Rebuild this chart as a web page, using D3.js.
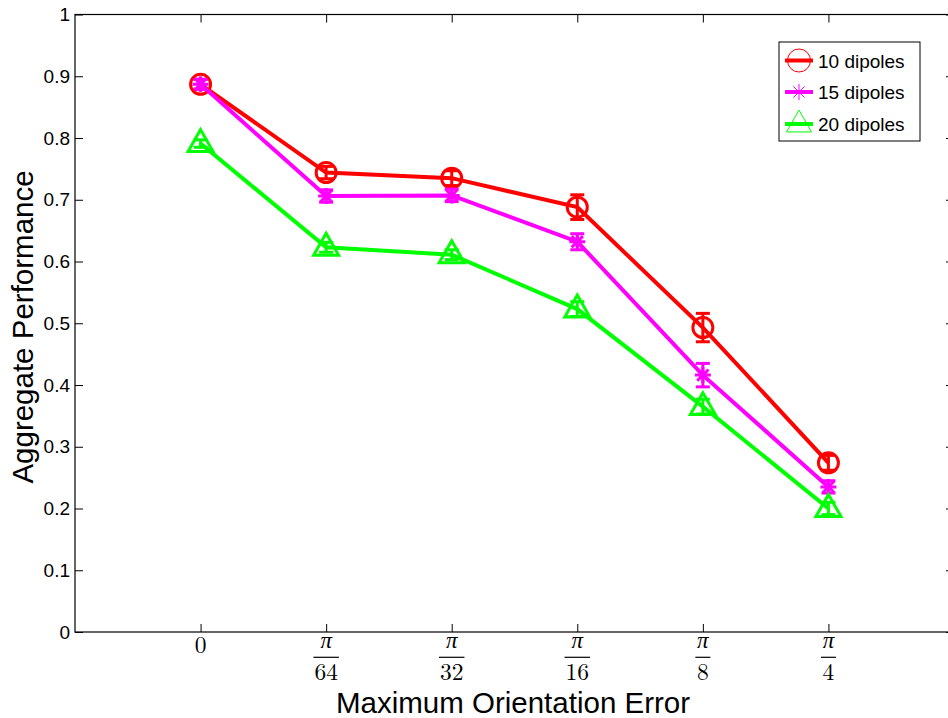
<!DOCTYPE html>
<html>
<head>
<meta charset="utf-8">
<script src="https://cdn.jsdelivr.net/npm/d3@7"></script>
<style>
  html, body { margin: 0; padding: 0; background: #fff; }
  svg { display: block; }
</style>
</head>
<body>
<svg id="chart" width="948" height="718"></svg>
<script>
// Orientation error levels (tick labels are drawn as stacked fractions)
const categories = ["0", "π/64", "π/32", "π/16", "π/8", "π/4"];
const tickNumerators = ["", "π", "π", "π", "π", "π"];
const tickDenominators = ["0", "64", "32", "16", "8", "4"];

// Aggregate performance per dipole count, with error-bar half widths
const seriesNames = ["10 dipoles", "15 dipoles", "20 dipoles"];
const perf10 = [0.887, 0.744, 0.735, 0.688, 0.493, 0.274];
const err10  = [0.008, 0.010, 0.012, 0.020, 0.023, 0.012];
const perf15 = [0.887, 0.706, 0.707, 0.632, 0.416, 0.235];
const err15  = [0.008, 0.010, 0.010, 0.013, 0.019, 0.010];
const perf20 = [0.791, 0.623, 0.611, 0.523, 0.365, 0.200];
const err20  = [0.006, 0.008, 0.008, 0.012, 0.012, 0.010];
const yTicks = [0, 0.1, 0.2, 0.3, 0.4, 0.5, 0.6, 0.7, 0.8, 0.9, 1];

const series = [
  { name: seriesNames[0], values: perf10, errs: err10, color: "#ff0000", marker: "circle" },
  { name: seriesNames[1], values: perf15, errs: err15, color: "#ff00ff", marker: "star" },
  { name: seriesNames[2], values: perf20, errs: err20, color: "#00ff00", marker: "triangle" }
];

const svg = d3.select("#chart");
const plotLeft = 75, plotRight = 954, plotTop = 14.5, plotBottom = 632;
const sans = "'Liberation Sans', Arial, Helvetica, sans-serif";
const serif = "'Latin Modern Roman', 'CMU Serif', 'Liberation Serif', 'DejaVu Serif', serif";

const x = d3.scaleLinear().domain([-1, 6]).range([plotLeft, plotRight]);
const y = d3.scaleLinear().domain([0, 1]).range([plotBottom, plotTop]);
const idx = d3.range(categories.length);

// Frame
svg.append("rect")
  .attr("x", plotLeft).attr("y", plotTop)
  .attr("width", plotRight - plotLeft).attr("height", plotBottom - plotTop)
  .attr("fill", "none").attr("stroke", "#000").attr("stroke-width", 1.2);

// Y axis (left) with inward ticks
const yAxis = d3.axisLeft(y).tickValues(yTicks).tickSize(-8).tickPadding(5)
  .tickFormat(d => d === 0 || d === 1 ? d3.format("d")(d) : d3.format(".1f")(d));
const gy = svg.append("g").attr("transform", `translate(${plotLeft},0)`).call(yAxis);
gy.select(".domain").remove();
gy.selectAll("line").attr("stroke", "#000").attr("stroke-width", 1);
gy.selectAll("text").attr("font-family", sans)
  .attr("font-size", 19).attr("fill", "#000");

// Right-side inward ticks
const gyr = svg.append("g").attr("transform", `translate(${plotRight},0)`)
  .call(d3.axisRight(y).tickValues(yTicks).tickSize(-8).tickFormat(""));
gyr.select(".domain").remove();
gyr.selectAll("line").attr("stroke", "#000");

// Bottom and top inward ticks
const gxb = svg.append("g").attr("transform", `translate(0,${plotBottom})`)
  .call(d3.axisBottom(x).tickValues(idx).tickSize(-8).tickFormat(""));
gxb.select(".domain").remove();
gxb.selectAll("line").attr("stroke", "#000");
const gxt = svg.append("g").attr("transform", `translate(0,${plotTop})`)
  .call(d3.axisTop(x).tickValues(idx).tickSize(-8).tickFormat(""));
gxt.select(".domain").remove();
gxt.selectAll("line").attr("stroke", "#000");

// Fraction tick labels
idx.forEach(i => {
  const cx = x(i);
  const g = svg.append("g");
  if (tickNumerators[i] === "") {
    g.append("text").attr("x", cx).attr("y", 653).attr("text-anchor", "middle")
      .attr("font-family", serif).attr("font-size", 23.5).text(tickDenominators[i]);
  } else {
    g.append("text").attr("x", cx).attr("y", 648).attr("text-anchor", "middle")
      .attr("font-family", serif).attr("font-style", "italic").attr("font-size", 23)
      .text(tickNumerators[i]);
    const w = tickDenominators[i].length > 1 ? 25.5 : 15;
    g.append("line").attr("x1", cx - w / 2).attr("x2", cx + w / 2)
      .attr("y1", 657.3).attr("y2", 657.3).attr("stroke", "#000").attr("stroke-width", 1.2);
    g.append("text").attr("x", cx).attr("y", 680).attr("text-anchor", "middle")
      .attr("font-family", serif).attr("font-size", 23.5).text(tickDenominators[i]);
  }
});

// Axis titles
svg.append("text").attr("x", 513).attr("y", 713).attr("text-anchor", "middle")
  .attr("font-family", sans).attr("font-size", 29.5)
  .text("Maximum Orientation Error");
svg.append("text").attr("transform", `translate(33,327) rotate(-90)`)
  .attr("text-anchor", "middle")
  .attr("font-family", sans).attr("font-size", 29.5)
  .text("Aggregate Performance");

// Marker drawing
function drawMarker(g, type, cx, cy, color, size, sw) {
  if (type === "circle") {
    g.append("circle").attr("cx", cx).attr("cy", cy).attr("r", size)
      .attr("fill", "none").attr("stroke", color).attr("stroke-width", sw);
  } else if (type === "star") {
    const r = size;
    const d = r * Math.SQRT1_2;
    const p = `M${cx - r},${cy}L${cx + r},${cy}M${cx},${cy - r}L${cx},${cy + r}` +
      `M${cx - d},${cy - d}L${cx + d},${cy + d}M${cx - d},${cy + d}L${cx + d},${cy - d}`;
    g.append("path").attr("d", p).attr("fill", "none").attr("stroke", color).attr("stroke-width", sw);
  } else {
    // triangle sits slightly above the data point, as in the plotting style used
    const h = size * 1.75, w = size * 2, c = cy - 3;
    const p = `M${cx},${c - h / 2}L${cx + w / 2},${c + h / 2}L${cx - w / 2},${c + h / 2}Z`;
    g.append("path").attr("d", p).attr("fill", "none").attr("stroke", color)
      .attr("stroke-width", sw).attr("stroke-linejoin", "miter");
  }
}

const line = d3.line().x((d, i) => x(i)).y(d => y(d));

series.forEach(s => {
  const g = svg.append("g");
  g.append("path").datum(s.values).attr("d", line)
    .attr("fill", "none").attr("stroke", s.color).attr("stroke-width", 4);
  // Error bars
  s.values.forEach((v, i) => {
    const e = s.errs[i], cx = x(i);
    g.append("line").attr("x1", cx).attr("x2", cx).attr("y1", y(v - e)).attr("y2", y(v + e))
      .attr("stroke", s.color).attr("stroke-width", 3);
    [v - e, v + e].forEach(t => {
      g.append("line").attr("x1", cx - 7).attr("x2", cx + 7).attr("y1", y(t)).attr("y2", y(t))
        .attr("stroke", s.color).attr("stroke-width", 3);
    });
  });
  const msize = s.marker === "circle" ? 10 : (s.marker === "star" ? 8 : 12.5);
  s.values.forEach((v, i) => drawMarker(g, s.marker, x(i), y(v), s.color, msize, 3));
});

// Legend
const lg = svg.append("g");
lg.append("rect").attr("x", 779).attr("y", 42).attr("width", 141).attr("height", 99)
  .attr("fill", "#fff").attr("stroke", "#000").attr("stroke-width", 1);
const legendY = [60.5, 92, 124];
series.forEach((s, i) => {
  const cy = legendY[i];
  lg.append("line").attr("x1", 785).attr("x2", 813).attr("y1", cy).attr("y2", cy)
    .attr("stroke", s.color).attr("stroke-width", 4);
  const ms = s.marker === "circle" ? 11.5 : (s.marker === "star" ? 8 : 12.5);
  drawMarker(lg, s.marker, 799, cy, s.color, ms, 1);
  lg.append("text").attr("x", 818).attr("y", cy + 7)
    .attr("font-family", sans).attr("font-size", 19)
    .text(s.name);
});
</script>
</body>
</html>
